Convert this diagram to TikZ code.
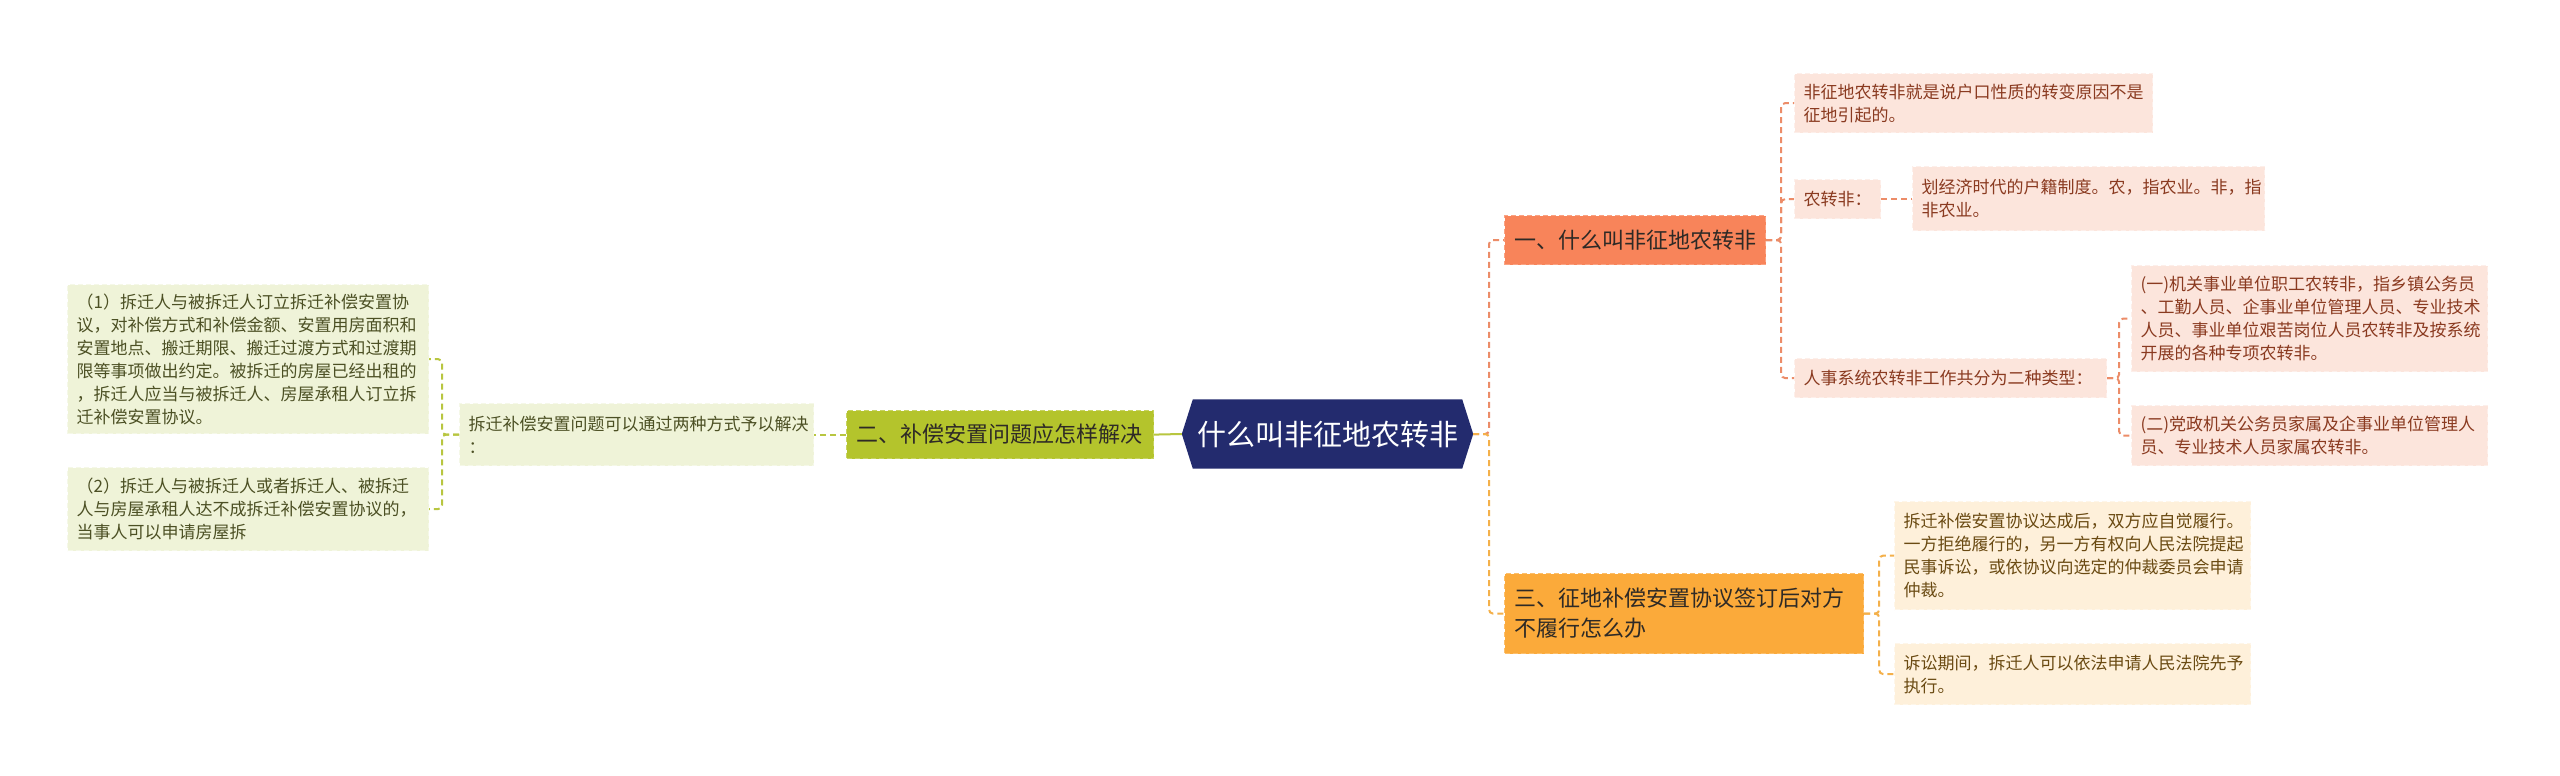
\documentclass[tikz,border=0pt]{standalone}
\usepackage{fontspec}
\setmainfont{Noto Sans CJK SC}
\usetikzlibrary{backgrounds}
\definecolor{navy}{HTML}{232B6E}
\definecolor{coral}{HTML}{F8845A}
\definecolor{amber}{HTML}{FBAA3A}
\definecolor{olive}{HTML}{B4C42C}
\definecolor{pinkleaf}{HTML}{FCE5DC}
\definecolor{creamleaf}{HTML}{FEF0DA}
\definecolor{greenleaf}{HTML}{EFF3D8}
\definecolor{coralline}{HTML}{EC8C68}
\definecolor{amberline}{HTML}{F4B04A}
\definecolor{greenline}{HTML}{B8C640}
\definecolor{pinktext}{HTML}{8A3A20}
\definecolor{creamtext}{HTML}{6A4A12}
\definecolor{greentext}{HTML}{4C5024}
\definecolor{branchtext}{HTML}{2E2A26}
\begin{document}
\begin{tikzpicture}[x=1pt,y=-1pt,
  box/.style={rectangle, anchor=north west, inner xsep=9pt, inner ysep=3pt, align=left,
    dash pattern=on 5pt off 3pt, line width=1.2pt},
  leaf/.style={box, font=\fontsize{17}{23}\selectfont},
  pinkbox/.style={leaf, fill=pinkleaf, draw=pinkleaf!60!white, text=pinktext},
  creambox/.style={leaf, fill=creamleaf, draw=creamleaf!60!white, text=creamtext},
  greenbox/.style={leaf, fill=greenleaf, draw=greenleaf!60!white, text=greentext},
  branch/.style={box, inner xsep=10pt, font=\fontsize{22}{30}\selectfont, text=branchtext},
  conn/.style={dash pattern=on 6pt off 4pt, line width=2pt, rounded corners=4pt},
]
\begin{pgfonlayer}{background}
\fill[white] (0,0) rectangle (2560,776);
\end{pgfonlayer}

% center
\node[minimum width=291pt, minimum height=69pt, inner sep=0pt, text=white,
  font=\fontsize{29}{34}\selectfont] (c) at (1327.5,434) {什么叫非征地农转非};
\begin{pgfonlayer}{background}
\fill[navy] ([xshift=11pt]c.north west) -- ([xshift=-11pt]c.north east) -- (c.east)
  -- ([xshift=-11pt]c.south east) -- ([xshift=11pt]c.south west) -- (c.west) -- cycle;
\end{pgfonlayer}

% branches
\node[branch, fill=coral, draw=coral!75!white,
  minimum width=261pt, text width=241pt, minimum height=49pt] (b1) at (1504,215)
  {一、什么叫非征地农转非};
\node[branch, fill=amber, draw=amber!75!white,
  minimum width=359pt, text width=339pt, minimum height=80pt] (b3) at (1504,573)
  {三、征地补偿安置协议签订后对方\\不履行怎么办};
\node[branch, fill=olive, draw=olive!75!white,
  minimum width=307pt, text width=287pt, minimum height=48pt] (b2) at (846,410)
  {二、补偿安置问题应怎样解决};

% left
\node[greenbox, minimum width=354pt, text width=336pt, minimum height=62pt] (s) at (459,403)
  {拆迁补偿安置问题可以通过两种方式予以解决\\：};
\node[greenbox, minimum width=361pt, text width=343pt, minimum height=149pt] (l1) at (67,284)
  {（1）拆迁人与被拆迁人订立拆迁补偿安置协\\议，对补偿方式和补偿金额、安置用房面积和\\安置地点、搬迁期限、搬迁过渡方式和过渡期\\限等事项做出约定。被拆迁的房屋已经出租的\\，拆迁人应当与被拆迁人、房屋承租人订立拆\\迁补偿安置协议。};
\node[greenbox, minimum width=361pt, text width=343pt, minimum height=83pt] (l2) at (67,467)
  {（2）拆迁人与被拆迁人或者拆迁人、被拆迁\\人与房屋承租人达不成拆迁补偿安置协议的，\\当事人可以申请房屋拆};

% right, branch 1
\node[pinkbox, minimum width=358pt, text width=340pt, minimum height=59pt] (ra) at (1794,73)
  {非征地农转非就是说户口性质的转变原因不是\\征地引起的。};
\node[pinkbox, minimum width=86pt, text width=68pt, minimum height=39pt] (rn) at (1794,179)
  {农转非：};
\node[pinkbox, minimum width=352pt, text width=334pt, minimum height=64pt] (rh) at (1912,166)
  {划经济时代的户籍制度。农，指农业。非，指\\非农业。};
\node[pinkbox, minimum width=312pt, text width=294pt, minimum height=39pt] (rr) at (1794,358)
  {人事系统农转非工作共分为二种类型：};
\node[pinkbox, minimum width=356pt, text width=338pt, minimum height=106pt] (r1) at (2131,265)
  {(一)机关事业单位职工农转非，指乡镇公务员\\、工勤人员、企事业单位管理人员、专业技术\\人员、事业单位艰苦岗位人员农转非及按系统\\开展的各种专项农转非。};
\node[pinkbox, minimum width=356pt, text width=338pt, minimum height=60pt] (r2) at (2131,405)
  {(二)党政机关公务员家属及企事业单位管理人\\员、专业技术人员家属农转非。};

% right, branch 3
\node[creambox, minimum width=356pt, text width=338pt, minimum height=108pt] (t1) at (1894,501)
  {拆迁补偿安置协议达成后，双方应自觉履行。\\一方拒绝履行的，另一方有权向人民法院提起\\民事诉讼，或依协议向选定的仲裁委员会申请\\仲裁。};
\node[creambox, minimum width=356pt, text width=338pt, minimum height=61pt] (t2) at (1894,643)
  {诉讼期间，拆迁人可以依法申请人民法院先予\\执行。};

% joints
\coordinate (j0) at (1489,434);
\coordinate (j1) at ([xshift=15pt]b1.east);
\coordinate (jr) at ([xshift=12pt]rr.east);
\coordinate (j3) at ([xshift=15pt]b3.east);
\coordinate (jl) at ([xshift=-17pt]s.west);

% connectors
\draw[conn, coralline] (c.east) -- (j0) |- (b1.west);
\draw[conn, amberline] (c.east) -- (j0) |- (b3.west);
\draw[line width=2pt, greenline] (c.west) -- (b2.east);
\draw[conn, greenline] (b2.west) -- (s.east);
\draw[conn, greenline] (s.west) -- (jl) |- (l1.east);
\draw[conn, greenline] (s.west) -- (jl) |- (l2.east);
\draw[conn, coralline] (b1.east) -- (j1) |- (ra.west);
\draw[conn, coralline] (b1.east) -- (j1) |- (rn.west);
\draw[conn, coralline] (b1.east) -- (j1) |- (rr.west);
\draw[conn, coralline] (rn.east) -- (rn.east -| rh.west);
\draw[conn, coralline] (rr.east) -- (jr) |- (r1.west);
\draw[conn, coralline] (rr.east) -- (jr) |- (r2.west);
\draw[conn, amberline] (b3.east) -- (j3) |- (t1.west);
\draw[conn, amberline] (b3.east) -- (j3) |- (t2.west);
\end{tikzpicture}
\end{document}
